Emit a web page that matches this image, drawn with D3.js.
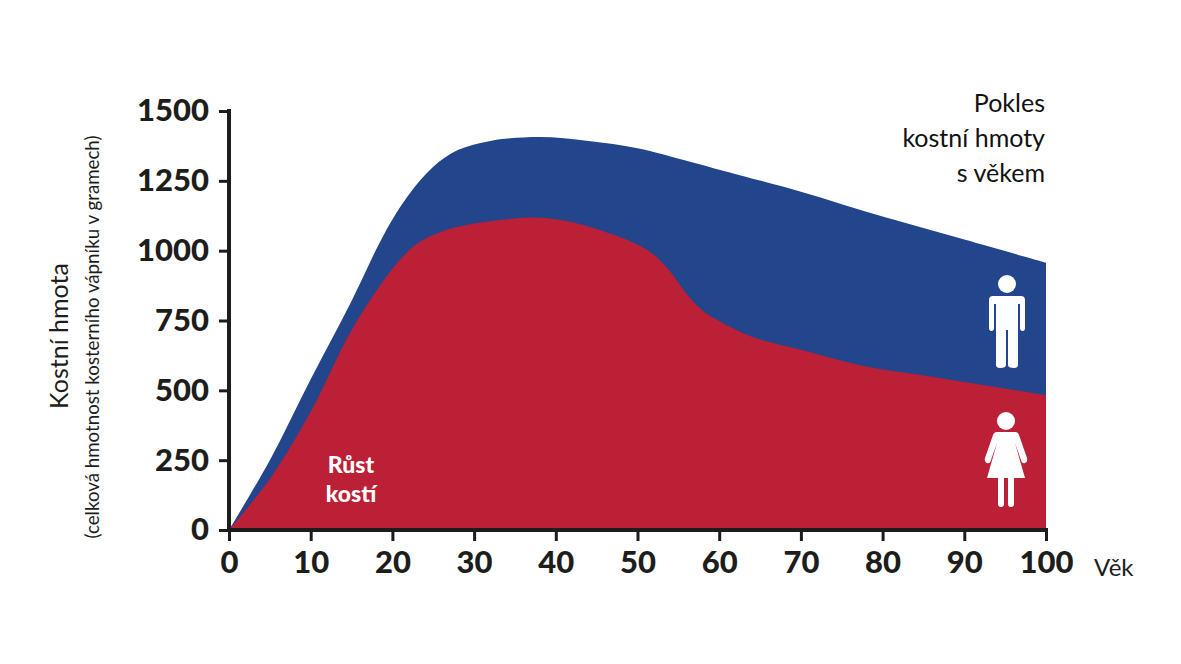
<html>
  <head>
    <meta charset="utf-8">
    <script src="https://cdn.jsdelivr.net/npm/d3@7"></script>
    <style>
      body { margin: 0; background: #fff; }
      text { font-family: Lato, "Open Sans", sans-serif; }
    </style>
  </head>
  <body>
    <script>
      var w = 1181;
      var h = 664;

      // muzi - horni modra plocha (vek, hmota)
      var menAges = [0, 5, 10, 15, 19, 22, 25, 28, 32, 38, 44, 50, 56, 60, 70, 80, 90, 100];
      var men     = [0, 250, 540, 820, 1060, 1200, 1300, 1360, 1393, 1407, 1393, 1367, 1322, 1290, 1211, 1122, 1040, 957];
      // zeny - spodni cervena plocha
      var womenAges = [0, 5, 10, 15, 20, 23, 26, 30, 35, 38, 42, 46, 50, 52, 54, 56, 58, 60, 64, 70, 78, 86, 100];
      var women     = [0, 183, 423, 715, 935, 1025, 1068, 1097, 1115, 1118, 1102, 1068, 1022, 985, 925, 845, 785, 748, 692, 645, 585, 549, 483];

      var xTicks = [0, 10, 20, 30, 40, 50, 60, 70, 80, 90, 100];
      var yTicks = [0, 250, 500, 750, 1000, 1250, 1500];

      var x = d3.scaleLinear().domain([0, 100]).range([229, 1046]);
      var y = d3.scaleLinear().domain([0, 1500]).range([530, 111]);

      var svg = d3.select("body")
                  .append("svg")
                    .attr("width", w)
                    .attr("height", h);

      function areaOf(agesArr, vals) {
        return d3.area()
                 .x(function(d, i) { return x(agesArr[i]); })
                 .y0(y(0))
                 .y1(function(d) { return y(d); })
                 .curve(d3.curveCatmullRom.alpha(0.5))(vals);
      }

      svg.append("path").attr("d", areaOf(menAges, men)).attr("fill", "#22458b");
      svg.append("path").attr("d", areaOf(womenAges, women)).attr("fill", "#bb2036");

      // osy
      var yAxis = svg.append("g")
                     .attr("transform", "translate(229,0)")
                     .call(d3.axisLeft(y).tickValues(yTicks).tickFormat(d3.format("d")).tickSize(10).tickPadding(10));
      var xAxis = svg.append("g")
                     .attr("transform", "translate(0,530)")
                     .call(d3.axisBottom(x).tickValues(xTicks).tickFormat(d3.format("d")).tickSize(11).tickPadding(10));

      [xAxis, yAxis].forEach(function(ax) {
        ax.select(".domain").attr("stroke", "#1d1d1b").attr("stroke-width", 4);
        ax.selectAll(".tick line").attr("stroke", "#1d1d1b").attr("stroke-width", 3);
        ax.selectAll(".tick text")
          .attr("fill", "#1d1d1b")
          .style("font-family", "Lato, sans-serif")
          .style("font-weight", 900)
          .style("font-size", "31px");
      });
      yAxis.select(".domain").attr("d", "M0,109V532");
      xAxis.select(".domain").attr("d", "M227,0H1048");

      // popisky
      svg.append("text")
         .attr("transform", "translate(68,336) rotate(-90)")
         .attr("text-anchor", "middle")
         .attr("fill", "#1d1d1b")
         .style("font-size", "25px")
         .text("Kostní hmota");
      svg.append("text")
         .attr("transform", "translate(99,337) rotate(-90)")
         .attr("text-anchor", "middle")
         .attr("fill", "#1d1d1b")
         .style("font-size", "18.7px")
         .text("(celková hmotnost kosterního vápníku v gramech)");

      svg.append("text")
         .attr("x", 1094).attr("y", 576)
         .attr("fill", "#1d1d1b")
         .style("font-size", "24px")
         .text("Věk");

      var pokles = ["Pokles", "kostní hmoty", "s věkem"];
      svg.selectAll("text.pokles")
         .data(pokles)
         .enter()
         .append("text")
           .attr("class", "pokles")
           .attr("x", 1045)
           .attr("y", function(d, i) { return 112 + i * 35; })
           .attr("text-anchor", "end")
           .attr("fill", "#111")
           .style("font-size", "25px")
           .text(function(d) { return d; });

      var rust = ["Růst", "kostí"];
      svg.selectAll("text.rust")
         .data(rust)
         .enter()
         .append("text")
           .attr("class", "rust")
           .attr("x", 351)
           .attr("y", function(d, i) { return 473 + i * 29; })
           .attr("text-anchor", "middle")
           .attr("fill", "#fff")
           .style("font-weight", 900)
           .style("font-size", "23px")
           .text(function(d) { return d; });

      // ikony muz / zena
      var man = svg.append("g").attr("transform", "translate(1007,0)").attr("fill", "#fff");
      man.append("circle").attr("cx", 0).attr("cy", 284).attr("r", 9);
      man.append("path").attr("d",
        "M-14,296 Q-18,296 -18,300 L-18,328 Q-18,331 -15.5,331 Q-13,331 -13,328 L-13,304 L-11,304 L-11,365 Q-11,368 -7,368 Q-1,368 -1,365 L-1,330 L1,330 L1,365 Q1,368 7,368 Q11,368 11,365 L11,304 L13,304 L13,328 Q13,331 15.5,331 Q18,331 18,328 L18,300 Q18,296 14,296 Z");

      var woman = svg.append("g").attr("transform", "translate(1006,0)").attr("fill", "#fff");
      woman.append("circle").attr("cx", 0).attr("cy", 421).attr("r", 9);
      woman.append("path").attr("d",
        "M-9,432 Q-12,432 -13,435 L-21,458 Q-22,462 -19,463 Q-16,464 -15,460 L-9,443 L-19,478 L-8,478 L-8,504 Q-8,507 -5,507 Q-2,507 -2,504 L-2,478 L2,478 L2,504 Q2,507 5,507 Q8,507 8,504 L8,478 L19,478 L9,443 L15,460 Q16,464 19,463 Q22,462 21,458 L13,435 Q12,432 9,432 Z");
    </script>
  </body>
</html>
